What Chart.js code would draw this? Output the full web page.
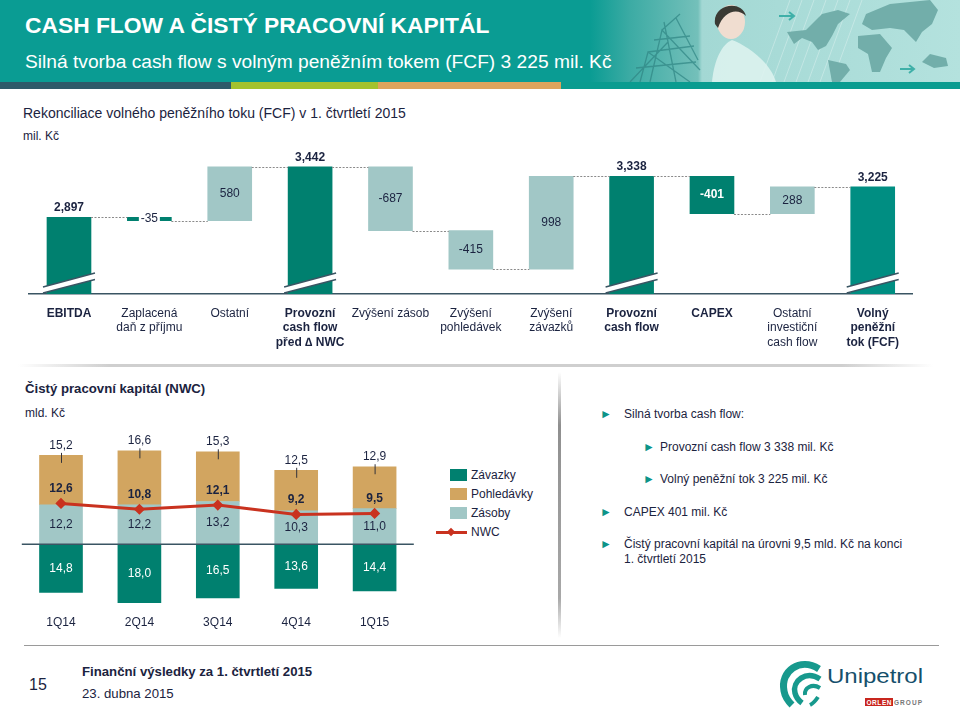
<!DOCTYPE html>
<html lang="cs">
<head>
<meta charset="utf-8">
<title>Cash flow a čistý pracovní kapitál</title>
<script src="https://cdn.jsdelivr.net/npm/chart.js@4"></script>
<style>
  html, body { margin: 0; padding: 0; background: #fff; }
  body { position: relative; width: 960px; height: 711px; overflow: hidden;
         font-family: "Liberation Sans", Arial, sans-serif; color: #1b2340; }
  .t { position: absolute; white-space: nowrap; line-height: 1; }
  canvas { position: absolute; left: 0; }
  #header { position: absolute; left: 0; top: 0; width: 960px; height: 82px;
            background: linear-gradient(90deg, #0a9c93 0, #0a9c93 590px, #3cabA4 630px, #74c0ba 698px, #a3d8d4 702px, #b4e2de 960px); }
  #strip { position: absolute; left: 0; top: 82px; width: 960px; height: 7px; background: #0a9c90; }
  #strip div { position: absolute; top: 0; height: 7px; }
  #hline { position: absolute; left: 18px; top: 364px; width: 915px; height: 3px;
           background: linear-gradient(90deg, rgba(160,160,160,0), #cfcfcf 10%, #cfcfcf 90%, rgba(160,160,160,0)); }
  #vline { position: absolute; left: 558px; top: 372px; width: 3px; height: 266px;
           background: linear-gradient(180deg, rgba(140,140,140,0), #8f8f8f 20%, #a8a8a8 85%, rgba(160,160,160,0)); }
  #fline { position: absolute; left: 24px; top: 645px; width: 915px; height: 1px; background: #9a9a9a; }
  .sw { position: absolute; left: 450px; width: 17px; height: 12px; }
  .tri { position: absolute; color: #0c9488; font-size: 12px; line-height: 1; }
</style>
</head>
<body>
<div id="header">
  <svg width="960" height="82" style="position:absolute;left:0;top:0">
    <!-- scaffolding -->
    <g stroke="#2f8583" stroke-opacity=".7" stroke-width="1.3" fill="none">
      <path d="M640 82L648 52L690 82M650 82L662 30L700 70M662 30L680 14M648 52L694 46M636 68L696 62M664 22L676 82M676 18L698 60M630 82L668 42M654 40L690 36"/>
    </g>
    <!-- map stripes -->
    <g stroke="#fff" stroke-opacity=".3" stroke-width="1">
      <path d="M760 82L790 0M772 82L802 0M784 82L814 0M796 82L826 0M808 82L838 0M820 82L850 0M832 82L862 0"/>
    </g>
    <!-- continents -->
    <g fill="#72aeaa">
      <path d="M787 32L806 30L822 14L838 10L850 14L838 24L832 36L826 46L818 50L812 42L802 38L794 44Z"/>
      <path d="M828 60L846 64L850 70L840 82L832 82Z"/>
      <path d="M866 14L890 4L930 0L938 10L932 24L922 32L916 42L904 30L890 28L872 30L862 24Z"/>
      <path d="M858 36L880 34L892 48L886 58L880 72L872 72L868 54L858 48Z"/>
      <path d="M922 62L930 54L946 58L948 66L934 68Z"/>
    </g>
    <!-- arrows -->
    <g stroke="#3fb0a8" stroke-width="2" fill="none">
      <path d="M779 16H794M789 12L794 16L789 20"/>
      <path d="M900 69H914M909 65L914 69L909 73"/>
    </g>
    <!-- woman -->
    <path d="M712 82C714 60 722 44 732 40C748 46 770 62 776 82Z" fill="#dff3f0" fill-opacity=".85"/>
    <ellipse cx="731" cy="22" rx="14" ry="17" fill="#f0ddd0"/>
    <path d="M715 24C712 4 742 -1 746 16C738 8 724 10 718 28Z" fill="#3a3a34"/>
  </svg>
</div>
<div id="strip">
  <div style="left:0;width:231px;background:#2e5a69"></div>
  <div style="left:231px;width:147px;background:#a4c22e"></div>
  <div style="left:378px;width:183px;background:#dea45c"></div>
</div>
<div class="t" style="left:25px;top:14px;font-size:22.8px;font-weight:bold;color:#fff">CASH FLOW A ČISTÝ PRACOVNÍ KAPITÁL</div>
<div class="t" style="left:25px;top:52px;font-size:19.2px;color:#fff">Silná tvorba cash flow s volným peněžním tokem (FCF) 3 225 mil. Kč</div>

<div class="t" style="left:23px;top:106px;font-size:14px">Rekonciliace volného peněžního toku (FCF) v 1. čtvrtletí 2015</div>
<div class="t" style="left:23px;top:130px;font-size:12px">mil. Kč</div>

<canvas id="flowChart" width="960" height="210" style="top:150px"></canvas>
<div id="hline"></div>

<div class="t" style="left:25px;top:382px;font-size:13.2px;font-weight:bold">Čistý pracovní kapitál (NWC)</div>
<div class="t" style="left:25px;top:407px;font-size:12px">mld. Kč</div>
<canvas id="nwcChart" width="430" height="212" style="top:430px"></canvas>
<div id="legend"></div>

<div id="vline"></div>

<div class="tri" style="left:600px;top:408px">►</div>
<div class="t" style="left:624px;top:408px;font-size:12px">Silná tvorba cash flow:</div>
<div class="tri" style="left:643px;top:441px">►</div>
<div class="t" style="left:660px;top:441px;font-size:12px">Provozní cash flow 3 338 mil. Kč</div>
<div class="tri" style="left:643px;top:473px">►</div>
<div class="t" style="left:660px;top:473px;font-size:12px">Volný peněžní tok 3 225 mil. Kč</div>
<div class="tri" style="left:600px;top:506px">►</div>
<div class="t" style="left:624px;top:506px;font-size:12px">CAPEX 401 mil. Kč</div>
<div class="tri" style="left:600px;top:538px">►</div>
<div class="t" style="left:624px;top:538px;font-size:12px">Čistý pracovní kapitál na úrovni 9,5 mld. Kč na konci</div>
<div class="t" style="left:624px;top:553px;font-size:12px">1. čtvrtletí 2015</div>

<div id="fline"></div>
<div class="t" style="left:29px;top:677px;font-size:16px">15</div>
<div class="t" style="left:82px;top:665px;font-size:13.2px;font-weight:bold">Finanční výsledky za 1. čtvrtletí 2015</div>
<div class="t" style="left:82px;top:687px;font-size:13.2px">23. dubna 2015</div>

<svg width="170" height="56" style="position:absolute;left:770px;top:655px">
  <g fill="none" stroke="#17998d">
    <path d="M49 14C30 2 10 16 14 36C15 42 18 46 22 50" stroke-width="7"/>
    <path d="M50 24C36 15 22 26 25 38C26 42 28 45 32 48" stroke-width="5.5"/>
    <path d="M50 33C42 28 34 33 35 40" stroke-width="4"/>
    <path d="M40 50C44 48 46 45 48 42" stroke-width="4"/>
  </g>
  <text x="57" y="28" font-family="Liberation Sans" font-size="21" fill="#15506c" textLength="96" lengthAdjust="spacingAndGlyphs">Unipetrol</text>
  <rect x="95" y="43" width="28" height="8" fill="#c8261e"/>
  <text x="96.5" y="49.5" font-family="Liberation Sans" font-size="6.5" font-weight="bold" fill="#fff" textLength="25">ORLEN</text>
  <text x="124" y="49.5" font-family="Liberation Sans" font-size="6.5" font-weight="bold" fill="#777" textLength="28">GROUP</text>
</svg>

<script>
// Waterfall: free cash flow reconciliation, mil. Kč
const flowCategories = [
  'EBITDA', ['Zaplacená', 'daň z příjmu'], 'Ostatní',
  ['Provozní', 'cash flow', 'před ∆ NWC'], 'Zvýšení zásob',
  ['Zvýšení', 'pohledávek'], ['Zvýšení', 'závazků'],
  ['Provozní', 'cash flow'], 'CAPEX',
  ['Ostatní', 'investiční', 'cash flow'], ['Volný', 'peněžní', 'tok (FCF)']
];
const flowValues = [2897, -35, 580, 3442, -687, -415, 998, 3338, -401, 288, 3225];
const flowIsTotal = [true, false, false, true, false, false, false, true, false, false, true];
const flowIsBold = [true, false, false, true, false, false, false, true, true, false, true];

// Stacked bars: net working capital, mld. Kč
const quarters = ['1Q14', '2Q14', '3Q14', '4Q14', '1Q15'];
const inventories = [12.2, 12.2, 13.2, 10.3, 11.0];
const receivables = [15.2, 16.6, 15.3, 12.5, 12.9];
const payables = [-14.8, -18.0, -16.5, -13.6, -14.4];
const nwc = [12.6, 10.8, 12.1, 9.2, 9.5];

const DARK = '#00806f';
const FCF = '#008e82';
const LIGHT = '#a1c7c6';
const ORANGE = '#d2a560';
const RED = '#c9321f';
const INK = '#1b2340';
const AXIS = '#3a5563';
const FONT = '"Liberation Sans"';

Chart.defaults.font.family = FONT + ', Arial, sans-serif';
Chart.defaults.color = INK;

// running total turns the deltas into floating bars
const flowFloor = 2073;
let running = 0;
const flowBars = flowValues.map((v, i) => {
  if (flowIsTotal[i]) { running = v; return [flowFloor, v]; }
  const start = running;
  running += v;
  return [Math.min(start, running), Math.max(start, running)];
});
const flowLevels = flowValues.map((v, i) => {
  if (flowIsTotal[i]) return v;
  return v < 0 ? flowBars[i][0] : flowBars[i][1];
});

const flowColors = flowValues.map((v, i) => {
  if (i === 10) return FCF;
  if (flowIsTotal[i] || flowIsBold[i] || i === 1) return DARK;
  return LIGHT;
});

const flowDecor = {
  id: 'flowDecor',
  afterDatasetsDraw(chart) {
    const { ctx, chartArea, scales: { y } } = chart;
    const bars = chart.getDatasetMeta(0).data;
    ctx.save();

    // dotted connectors
    ctx.strokeStyle = '#8a8a8a';
    ctx.lineWidth = 1;
    ctx.setLineDash([2, 1.5]);
    bars.forEach((bar, i) => {
      if (i === bars.length - 1) return;
      const py = Math.round(y.getPixelForValue(flowLevels[i])) + 0.5;
      ctx.beginPath();
      ctx.moveTo(bar.x + bar.width / 2, py);
      ctx.lineTo(bars[i + 1].x - bars[i + 1].width / 2, py);
      ctx.stroke();
    });
    ctx.setLineDash([]);

    // axis break on the total bars
    const base = chartArea.bottom;
    bars.forEach((bar, i) => {
      if (!flowIsTotal[i]) return;
      ctx.fillStyle = '#fff';
      ctx.beginPath();
      ctx.moveTo(bar.x - 26, base - 7);
      ctx.lineTo(bar.x + 26, base - 21);
      ctx.lineTo(bar.x + 26, base - 14.5);
      ctx.lineTo(bar.x - 26, base - 1);
      ctx.closePath();
      ctx.fill();
      ctx.strokeStyle = AXIS;
      ctx.lineWidth = 1.4;
      ctx.beginPath();
      ctx.moveTo(bar.x - 26, base - 7);
      ctx.lineTo(bar.x + 26, base - 21);
      ctx.moveTo(bar.x - 26, base - 1);
      ctx.lineTo(bar.x + 26, base - 14.5);
      ctx.stroke();
    });

    // value labels
    ctx.textAlign = 'center';
    ctx.textBaseline = 'middle';
    bars.forEach((bar, i) => {
      const text = flowValues[i].toLocaleString('en-US');
      const topY = y.getPixelForValue(flowBars[i][1]);
      const botY = y.getPixelForValue(flowBars[i][0]);
      if (flowIsTotal[i]) {
        ctx.font = 'bold 12px ' + FONT;
        ctx.fillStyle = INK;
        ctx.fillText(text, bar.x, topY - 9.5);
      } else if (i === 1) {
        ctx.fillStyle = '#fff';
        ctx.fillRect(bar.x - 10.5, topY - 3, 21, botY - topY + 6);
        ctx.font = '12px ' + FONT;
        ctx.fillStyle = INK;
        ctx.fillText(text, bar.x, (topY + botY) / 2 - 0.5);
      } else {
        ctx.font = (flowIsBold[i] ? 'bold ' : '') + '12px ' + FONT;
        ctx.fillStyle = flowIsBold[i] ? '#fff' : INK;
        ctx.fillText(text, bar.x, (topY + botY) / 2);
      }
    });
    ctx.restore();
  }
};

new Chart(document.getElementById('flowChart'), {
  type: 'bar',
  data: {
    labels: flowCategories,
    datasets: [{ data: flowBars, backgroundColor: flowColors, barThickness: 44 }]
  },
  options: {
    responsive: false,
    animation: false,
    layout: { autoPadding: false, padding: { left: 28.8, right: 47.1, top: 0, bottom: 0 } },
    plugins: { legend: { display: false }, tooltip: { enabled: false } },
    scales: {
      x: {
        afterFit: s => { s.height = 66; },
        grid: { display: false, drawTicks: false },
        border: { color: AXIS, width: 1.5 },
        ticks: {
          autoSkip: false,
          maxRotation: 0,
          padding: 12,
          color: INK,
          font: ctx => ({ size: 12, lineHeight: 1.21, weight: flowIsBold[ctx.index] ? 'bold' : 'normal' })
        }
      },
      y: { display: false, min: flowFloor, max: 3622 }
    }
  },
  plugins: [flowDecor]
});

const label = v => Math.abs(v).toFixed(1).replace('.', ',');

const nwcDecor = {
  id: 'nwcDecor',
  afterDatasetsDraw(chart) {
    const { ctx, chartArea, scales: { y } } = chart;
    const inv = chart.getDatasetMeta(0).data;
    const rec = chart.getDatasetMeta(1).data;
    const pay = chart.getDatasetMeta(2).data;
    const line = chart.getDatasetMeta(3).data;
    const zero = y.getPixelForValue(0);
    ctx.save();

    ctx.strokeStyle = AXIS;
    ctx.lineWidth = 1.5;
    ctx.beginPath();
    ctx.moveTo(chartArea.left, zero);
    ctx.lineTo(chartArea.right, zero);
    ctx.stroke();

    ctx.textAlign = 'center';
    ctx.textBaseline = 'middle';
    ctx.font = '12px ' + FONT;
    quarters.forEach((q, i) => {
      const x = inv[i].x;
      ctx.fillStyle = INK;
      ctx.fillText(label(inventories[i]), x, (inv[i].y + zero) / 2);
      ctx.fillText(label(receivables[i]), x, rec[i].y - 10);
      ctx.strokeStyle = '#33333a';
      ctx.lineWidth = 1;
      ctx.beginPath();
      ctx.moveTo(x + 0.5, rec[i].y - 2.5);
      ctx.lineTo(x + 0.5, rec[i].y + 7.5);
      ctx.stroke();
      ctx.fillStyle = '#fff';
      ctx.fillText(label(payables[i]), x, (pay[i].y + zero) / 2);
    });
    ctx.font = 'bold 12px ' + FONT;
    ctx.fillStyle = INK;
    quarters.forEach((q, i) => {
      ctx.fillText(label(nwc[i]), line[i].x, line[i].y - 14.5);
    });
    ctx.restore();
  }
};

const nwcChart = new Chart(document.getElementById('nwcChart'), {
  data: {
    labels: quarters,
    datasets: [
      { type: 'bar', label: 'Zásoby', data: inventories, backgroundColor: LIGHT, barThickness: 43, order: 2 },
      { type: 'bar', label: 'Pohledávky', data: receivables, backgroundColor: ORANGE, barThickness: 43, order: 2 },
      { type: 'bar', label: 'Závazky', data: payables, backgroundColor: DARK, barThickness: 43, order: 2 },
      {
        type: 'line', label: 'NWC', data: nwc, borderColor: RED, backgroundColor: RED, borderWidth: 3,
        pointStyle: 'rectRot', pointRadius: 3.5, tension: 0, order: 1
      }
    ]
  },
  options: {
    responsive: false,
    animation: false,
    layout: { autoPadding: false, padding: { left: 21.8, right: 16.2, top: 0, bottom: 0 } },
    plugins: { legend: { display: false }, tooltip: { enabled: false } },
    scales: {
      x: {
        stacked: true,
        afterFit: s => { s.height = 30; },
        grid: { display: false, drawTicks: false },
        border: { display: false },
        ticks: { autoSkip: false, maxRotation: 0, padding: 3, color: INK, font: { size: 12 } }
      },
      y: { stacked: true, display: false, min: -20.86, max: 35.22 }
    }
  },
  plugins: [nwcDecor]
});

// legend rows in the slide's own order
const legendOrder = ['Závazky', 'Pohledávky', 'Zásoby', 'NWC'];
const legendBox = document.getElementById('legend');
legendOrder.forEach((name, row) => {
  const ds = nwcChart.data.datasets.find(d => d.label === name);
  const cy = 475 + row * 19;
  if (ds.type === 'line') {
    legendBox.insertAdjacentHTML('beforeend',
      `<div style="position:absolute;left:436px;top:${cy - 1.5}px;width:31px;height:3px;background:${ds.borderColor}"></div>` +
      `<div style="position:absolute;left:448px;top:${cy - 3}px;width:6px;height:6px;background:${ds.borderColor};transform:rotate(45deg)"></div>`);
  } else {
    legendBox.insertAdjacentHTML('beforeend',
      `<div class="sw" style="top:${cy - 6}px;background:${ds.backgroundColor}"></div>`);
  }
  legendBox.insertAdjacentHTML('beforeend',
    `<div class="t" style="left:471px;top:${cy - 6}px;font-size:12px">${name}</div>`);
});
</script>
</body>
</html>
